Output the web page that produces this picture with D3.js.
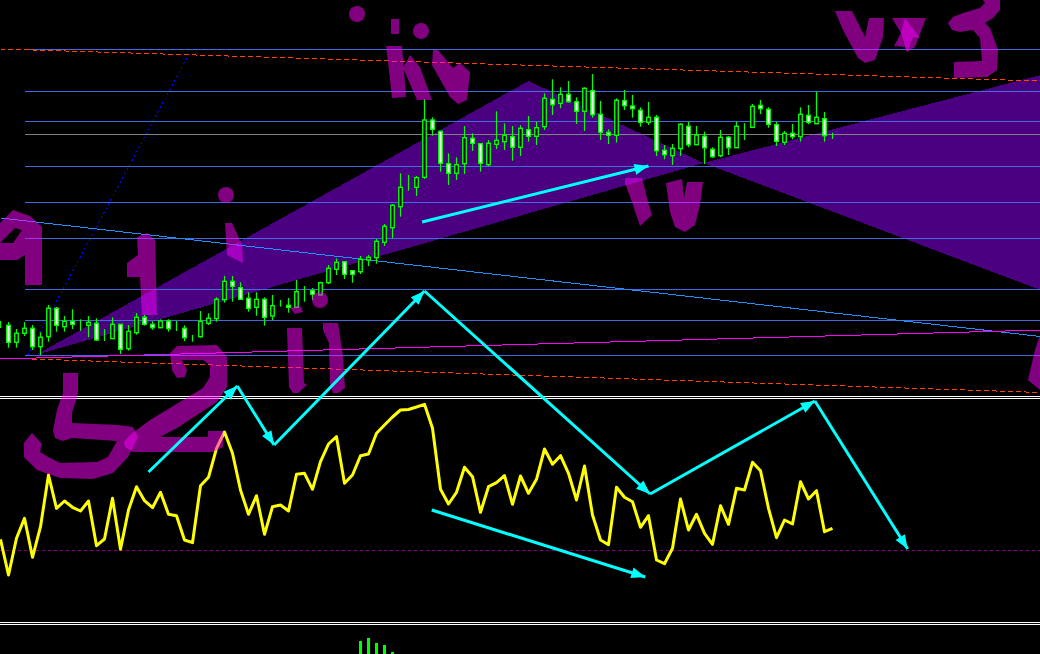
<!DOCTYPE html>
<html><head><meta charset="utf-8">
<style>html,body{margin:0;padding:0;background:#000;overflow:hidden}svg{display:block}</style>
<script src="https://cdn.jsdelivr.net/npm/d3@7/dist/d3.min.js"></script>
</head><body><div id="chart"></div>
<script>
// ---- candle series (bar index = array position) ----
const highs=[79,78,71,78,75,67.7,95,93,84,90.7,80.7,84,81.7,71,82.7,75.7,75,87,85.3,78.7,80.7,80.7,79,74.7,65,89,86.7,102.7,124,124,117.7,107.7,107.7,102.7,105,100,102,120,114,112,118.3,135,141.7,138.3,129.3,144,145,161,176,196,226.7,225,224,300.7,282.7,268.7,246.7,242.7,274,266.7,256.3,260,288.7,276.7,274,274.7,284,278.3,306.7,320.7,312.7,319,302.7,312.7,326,299,270.7,301.7,310,305,292.7,298,285,255,256,276.7,278.3,274,268.3,252.7,270,264,278.3,276.7,296,300,292.7,278.3,269,276,292.7,295,308.3,288,267.3];
const opens=[74.5,74.7,57.7,66.7,71.7,53.3,63.3,91.7,73.3,78.7,75,74.7,76.7,61,61.3,75.7,51.3,67.3,82.7,75.7,72.3,79,71.7,71.7,62.7,63.3,76.7,81.3,100.3,118.7,112.3,101.7,92.7,100.7,84,94.7,94.7,92.7,109.3,109.3,105,117.3,130.7,138.3,129.3,128.3,140,142.3,157.7,172.3,193.3,212.7,212.7,222.7,280,268.7,236.3,226.7,236.3,261.7,256.3,235.3,255.7,258.3,263.3,252.7,270.3,263.7,273.3,300.7,296.7,305.7,298.3,288.7,309.3,285.7,267.7,264.7,299.3,294,289.7,277.7,282.7,249.7,244.3,251.3,273.7,255.3,263.7,250.7,244.3,262.7,252.3,272.7,272.7,294.7,290.7,275.3,257.7,266.7,263.3,284.7,276.3,281.3,265];
const closes=[74.5,57.7,66.7,71.7,53.3,62.7,91.7,74.7,78.7,75.7,75,77.7,60,61,75.7,50.7,68.7,82.7,75.7,72.3,79,71.3,71.7,62.3,62.7,78.7,81.7,100.7,118.7,113.7,100.7,91.7,100.7,82.7,94.3,94.7,92.7,108.3,109.3,105.7,117.3,131.7,137.7,125.7,125.7,140.7,142.7,158.7,173.7,194.7,212.7,212.7,222.3,280,270.7,236.7,226.7,235.3,262.3,256.7,236.7,256.7,259.7,264.7,252.7,271.7,263.7,272.3,301.7,295.3,305.7,298.3,288.7,311.7,285.3,267.7,264.7,299.7,294.3,291.3,277.7,282.7,249.3,245.3,251.7,275.7,255.3,265,252.3,243.3,262.7,252.3,273.7,272.7,293.7,291.3,275.7,258.7,266.7,263.3,285.7,277.7,282.7,264.3,265];
const lows=[72,52.3,52.3,64,50,45,58.3,68.3,68.3,71,69,62.7,59,59,61.3,46,49.3,65.3,74.3,70.3,72.3,68.3,69,59,58.3,62.3,75,78.3,97.3,98.3,100.7,88.3,84.3,74.3,80,93.3,87.3,92.7,98.3,100,105,116,125,121,117.3,126,134,136.3,154,161.7,183.3,209.3,204,221,264.3,228.3,215,220,226,249,228.3,234,251,250,239.3,244,258.3,255,270,285,291.7,297.3,276,269,282.3,260,256,257.3,290,282.3,273.3,275,244,240.7,235,244,252.7,255.3,236,242.3,242.7,245,252.3,260,272.7,286,272.3,254,255,260.7,258.3,275.7,276.3,258.3,261];
// ---- oscillator in lower pane ----
const oscValues=[80.7,45,81.7,101.7,62.7,93.3,145,111.7,119,112.7,109,119,74.3,81,121.7,70.7,110,133.3,119.3,112.3,127.7,105.7,104.3,80,77.3,134.3,142.7,171.7,188,166.7,130,105.7,124.3,85.7,113.3,115,109,145.7,146.7,130.7,158.3,176,183.3,136.7,145,164.3,166,186.7,195,203,210,210.5,213,215.7,191.7,130.7,116,127.7,152.7,143.3,107.7,133.3,137.3,144.3,115.7,144,126.7,140.7,171,155.7,164.3,146.7,120,154,105,80,75.3,132.7,122.7,118.3,92.7,104.3,60,56.3,71.7,121,90,105.7,86.7,75.7,114.3,95.7,131.7,130,157.7,149.3,111.7,82.3,100,96,138.3,121,129.3,88.3,91.7];
const oscLevel=70;
// ---- volume bars in the bottom pane ----
const volumeBars=[45,46,47,48,49];
const volumeValues=[13,16,11,9,2];
// ---- horizontal levels ----
const blueLevels=[351,309,279,234,198,162,111,80,45];
const grayLevels=[266];
// ---- sloped lines: [bar, price] ----
const trendBlue=[[0,182],[130,63.5]];
const channelRedTop=[[0,351],[130,319]];
const channelRedBottom=[[0,42],[130,7.5]];
const channelMagenta=[[0,41],[130,70]];
const dottedBlue=[[3.4,45],[23.5,345]];
// ---- harmonic pattern triangles: [bar, price] ----
const triangleXAB=[[4.4,45],[66,319],[87.9,237]];
const triangleBCD=[[87.9,237],[130,325],[130,110]];
// ---- cyan arrows: [bar, price] ----
const arrows=[
 [[18.5,-72],[29.6,14]],[[29.6,14],[34.2,-45]],[[34.2,-45],[53,109]],[[53,109],[81.2,-94]],
 [[81.2,-94],[101.8,-1]],[[101.8,-1],[113.4,-149]],[[52.7,178],[81,234]],[[53.9,-110],[80.6,-177]]
];
// ---- freehand ink, in screen sketch units ----
const inkPolygons=[
 [[0,223],[13,210],[30,216],[42,227],[42,285],[25,285],[25,255],[17,260],[0,260]],
 [[137,237],[147,233],[155,240],[157,315],[142,315],[140,277],[127,277],[127,263],[138,255]],
 [[225,223],[232,223],[242,245],[243,263],[227,255]],
 [[290,308],[300,305],[303,312],[295,314]],
 [[287,328],[302,328],[304,383],[307,385],[298,393],[293,393],[289,387]],
 [[323,323],[338,323],[343,357],[345,388],[338,393],[333,393],[330,385],[329,343],[323,330]],
 [[386,46],[402,46],[406,97],[392,98],[389,70]],
 [[410,55],[420,67],[432,100],[417,100],[403,68]],
 [[433,50],[438,50],[453,68],[460,63],[470,72],[467,100],[458,104],[450,97],[432,65]],
 [[391,19],[399,19],[399,34],[391,34]],
 [[625,178],[642,178],[648,202],[653,218],[652,215],[640,226],[633,205],[625,183]],
 [[666,183],[682,179],[684,198],[687,182],[703,182],[700,205],[695,225],[685,232],[675,227],[670,212]],
 [[835,11],[852,11],[865,37],[869,18],[884,18],[883,37],[875,60],[865,63],[858,58],[843,30]],
 // "x" wings (their overlap forms the bright diamond)
 [[892,18],[905,18],[908,22],[920,38],[913,37],[907,52],[901,33]],
 [[905,18],[926,18],[915,47],[907,52],[905,47],[894,46],[901,33]],
 [[1040,335],[1035,350],[1028,380],[1040,390]],
 // "5"
 [[63,373],[78,373],[78,393],[72,413],[72,423],[118,425],[133,427],[138,437],[128,457],[113,473],[93,479],[60,478],[37,470],[24,457],[24,443],[32,433],[42,444],[40,452],[50,458],[60,463],[97,462],[108,457],[117,441],[72,438],[63,441],[55,438],[53,430],[55,420],[57,410],[63,393]],
 // "2"
 [[170,353],[177,346],[217,345],[227,357],[227,387],[217,402],[177,428],[160,437],[208,437],[208,431],[223,431],[223,447],[213,452],[133,452],[125,447],[124,442],[130,435],[150,420],[203,388],[210,377],[210,365],[203,360],[182,360],[187,370],[185,377],[177,378],[172,370]],
 // "3"
 [[983,0],[1000,0],[1000,10],[993,18],[985,23],[990,28],[998,50],[997,70],[987,77],[954,78],[954,62],[982,61],[980,38],[973,30],[960,32],[952,30],[948,23],[953,17],[963,13],[980,8],[985,3]]
];
const inkHoleNine=[[0,243],[15,228],[22,230],[13,243]];
const inkDots=[[357,14,8],[421,31,8],[226,195,8],[320,300,8]];

// ---- scales ----
const W=1040,H=654;
const x=d3.scaleLinear().domain([0,130]).range([0.5,1040.5]);
const y=d3.scaleLinear().domain([0,400]).range([400,0]);
const yOsc=d3.scaleLinear().domain([0,226]).range([620,394]);
const yVol=d3.scaleLinear().domain([0,20]).range([654,634]);
const sketchX=d3.scaleIdentity(), sketchY=d3.scaleIdentity();
const snap=v=>Math.round(v)+0.5;

const svg=d3.select('#chart').append('svg').attr('width',W).attr('height',H).style('background','#000');
const linePx=d3.line().x(d=>x(d[0])).y(d=>y(d[1]));
const polySketch=d=>'M'+d.map(p=>sketchX(p[0])+','+sketchY(p[1])).join('L')+'Z';

// pattern bands
svg.append('g').selectAll('path').data([triangleXAB,triangleBCD]).join('path')
  .attr('d',d=>linePx(d)+'Z').attr('fill','#4b0082').attr('shape-rendering','crispEdges');

// levels
const hLine=(g,vals,col)=>g.selectAll(null).data(vals).join('line')
  .attr('x1',x(3)).attr('x2',W).attr('y1',d=>snap(y(d))).attr('y2',d=>snap(y(d)))
  .attr('stroke',col).attr('stroke-width',1).attr('shape-rendering','crispEdges');
const gL=svg.append('g');
hLine(gL,blueLevels,'#4169e1');
hLine(gL,grayLevels,'#808080');

// sloped lines
const slope=(d,col,dash)=>svg.append('path').attr('d',linePx(d)).attr('fill','none').attr('stroke',col)
  .attr('stroke-width',1).attr('stroke-dasharray',dash||null).attr('shape-rendering','crispEdges');
slope(trendBlue,'#1e90ff');
slope(channelRedTop,'#ff4500','5,3');
slope(channelRedBottom,'#ff4500','5,3');
slope(channelMagenta,'#ff00ff');
slope(dottedBlue,'#0000ff','2,3');

// candles
const candles=highs.map((h,i)=>({i,h,o:opens[i],c:closes[i],l:lows[i]}));
const gC=svg.append('g');
gC.selectAll('.wick').data(candles).join('line').attr('class','wick')
  .attr('x1',d=>x(d.i)).attr('x2',d=>x(d.i)).attr('y1',d=>y(d.h)).attr('y2',d=>y(d.l))
  .attr('stroke','#00ff00').attr('stroke-width',1.2);
gC.selectAll('.body').data(candles).join('rect').attr('class','body')
  .attr('x',d=>x(d.i)-1.75).attr('width',3.5)
  .attr('y',d=>y(Math.max(d.o,d.c)))
  .attr('height',d=>Math.abs(d.o-d.c))
  .attr('fill',d=>d.c>d.o?'#000':'#fff').attr('stroke','#00ff00').attr('stroke-width',1.4);

// oscillator pane
svg.append('line').attr('x1',0).attr('x2',W).attr('y1',snap(yOsc(oscLevel))).attr('y2',snap(yOsc(oscLevel)))
  .attr('stroke','#800080').attr('stroke-dasharray','3,3').attr('shape-rendering','crispEdges');
svg.append('path').datum(oscValues)
  .attr('d',d3.line().x((d,i)=>x(i)).y(d=>yOsc(d)))
  .attr('fill','none').attr('stroke','#ffff00').attr('stroke-width',3).attr('stroke-linejoin','round');

// pane separators
svg.append('g').selectAll('line').data([396,398,622,624]).join('line')
  .attr('x1',0).attr('x2',W).attr('y1',d=>d+0.5).attr('y2',d=>d+0.5)
  .attr('stroke','#fff').attr('shape-rendering','crispEdges');

// volume
svg.append('g').selectAll('rect').data(volumeValues).join('rect')
  .attr('x',(d,i)=>x(volumeBars[i])-1.5).attr('width',3)
  .attr('y',d=>yVol(d)).attr('height',d=>yVol(0)-yVol(d)).attr('fill','#00ff00').attr('shape-rendering','crispEdges');

// ink (half transparent magenta)
const gI=svg.append('g').attr('fill','#ff00ff').attr('fill-opacity',0.5);
gI.selectAll('.poly').data(inkPolygons).join('path').attr('class','poly')
  .attr('fill-rule','evenodd')
  .attr('d',(d,i)=>polySketch(d)+(i===0?polySketch(inkHoleNine):''));
gI.selectAll('circle').data(inkDots).join('circle')
  .attr('cx',d=>sketchX(d[0])).attr('cy',d=>sketchY(d[1])).attr('r',d=>d[2]);

// arrows
const gA=svg.append('g');
gA.selectAll('line').data(arrows).join('line')
  .attr('x1',d=>x(d[0][0])).attr('y1',d=>y(d[0][1])).attr('x2',d=>x(d[1][0])).attr('y2',d=>y(d[1][1]))
  .attr('stroke','#00ffff').attr('stroke-width',3);
gA.selectAll('polygon').data(arrows).join('polygon')
  .attr('fill','#00ffff')
  .attr('points',d=>{
    const x1=x(d[1][0]),y1=y(d[1][1]),a=Math.atan2(y1-y(d[0][1]),x1-x(d[0][0]));
    const bx=x1-14*Math.cos(a),by=y1-14*Math.sin(a),nx=-Math.sin(a)*5.5,ny=Math.cos(a)*5.5;
    return [[x1,y1],[bx+nx,by+ny],[bx-nx,by-ny]].map(p=>p.join(',')).join(' ');
  });
</script></body></html>
